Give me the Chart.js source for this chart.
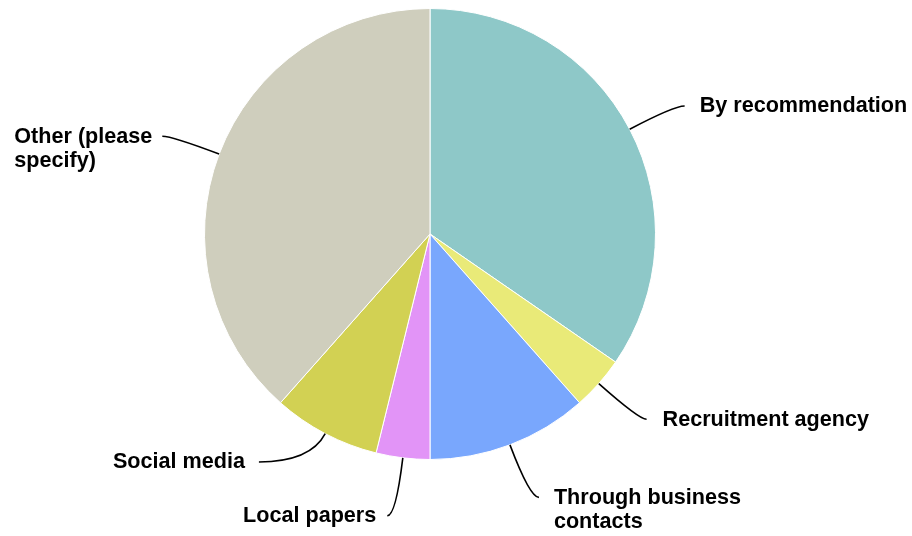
<!DOCTYPE html>
<html>
<head>
<meta charset="utf-8">
<script src="https://cdn.jsdelivr.net/npm/chart.js@4/dist/chart.umd.min.js"></script>
<style>
  html, body { margin: 0; padding: 0; background: #fff; }
  #wrap { width: 912px; height: 536px; }
</style>
</head>
<body>
<div id="wrap"><canvas id="mycanvas" width="912" height="536"></canvas></div>
<script>
// how respondents heard about the job (counts)
var sourceNames = [
  'By recommendation',
  'Recruitment agency',
  ['Through business', 'contacts'],
  'Local papers',
  'Social media',
  ['Other (please', 'specify)']
];
var sourceCounts = [9, 1, 3, 1, 2, 10];
var sliceColors = ['#8ec8c8', '#e9ea78', '#79a7fd', '#e294f7', '#d2d153', '#cfcebd'];

// leader lines + outside labels
var outsideLabels = {
  id: 'outsideLabels',
  afterDraw: function(chart, args, opts) {
    var ctx = chart.ctx;
    var meta = chart.getDatasetMeta(0);
    ctx.save();
    ctx.font = 'bold 21.6px "Liberation Sans", Arial, sans-serif';
    ctx.fillStyle = '#000';
    ctx.strokeStyle = '#000';
    ctx.lineWidth = 1.6;
    meta.data.forEach(function(arc, i) {
      var p = arc.getProps(['x', 'y', 'startAngle', 'endAngle', 'outerRadius'], true);
      var mid = (p.startAngle + p.endAngle) / 2;
      var sx = p.x + Math.cos(mid) * p.outerRadius;
      var sy = p.y + Math.sin(mid) * p.outerRadius;
      var a = mid + (opts.shift[i] || 0) * Math.PI / 180;
      var ex = p.x + Math.cos(a) * opts.reach;
      var ey = p.y + Math.sin(a) * opts.reach;
      var right = ex >= p.x;
      // control point: radial line from start meets the label's row
      var dy = Math.sin(mid);
      var t = Math.abs(dy) > 0.05 ? (ey - sy) / dy : 0;
      if (t < 0) t = 0;
      var cx = sx + Math.cos(mid) * t;
      var cy = sy + dy * t;
      if (right) cx = Math.min(Math.max(cx, sx), ex);
      else cx = Math.max(Math.min(cx, sx), ex);
      ctx.beginPath();
      ctx.moveTo(sx, sy);
      ctx.quadraticCurveTo(cx, cy, ex, ey);
      ctx.stroke();

      var lines = [].concat(chart.data.labels[i]);
      var w = Math.max.apply(null, lines.map(function(l) { return ctx.measureText(l).width; }));
      ctx.textAlign = 'left';
      ctx.textBaseline = 'middle';
      var gap = opts.gap[i];
      var tx = right ? ex + gap : ex - gap - w;
      lines.forEach(function(line, k) {
        ctx.fillText(line, tx, ey + 0.5 + k * 24);
      });
    });
    ctx.restore();
  }
};

var chartdata = {
  labels: sourceNames,
  datasets: [
    {
      data: sourceCounts,
      backgroundColor: sliceColors,
      borderColor: '#ffffff',
      borderWidth: 1
    }
  ]
};

new Chart(document.getElementById('mycanvas'), {
  type: 'pie',
  data: chartdata,
  plugins: [outsideLabels],
  options: {
    responsive: false,
    animation: false,
    layout: { padding: { left: 204, right: 256, top: 8, bottom: 76 } },
    plugins: {
      legend: { display: false },
      tooltip: { enabled: false },
      outsideLabels: {
        reach: 285,
        gap: [15, 16, 15, 11, 14, 10],
        shift: [1, -1, -1.7, 1.7, 9.2, -0.7]
      }
    }
  }
});
</script>
</body>
</html>
